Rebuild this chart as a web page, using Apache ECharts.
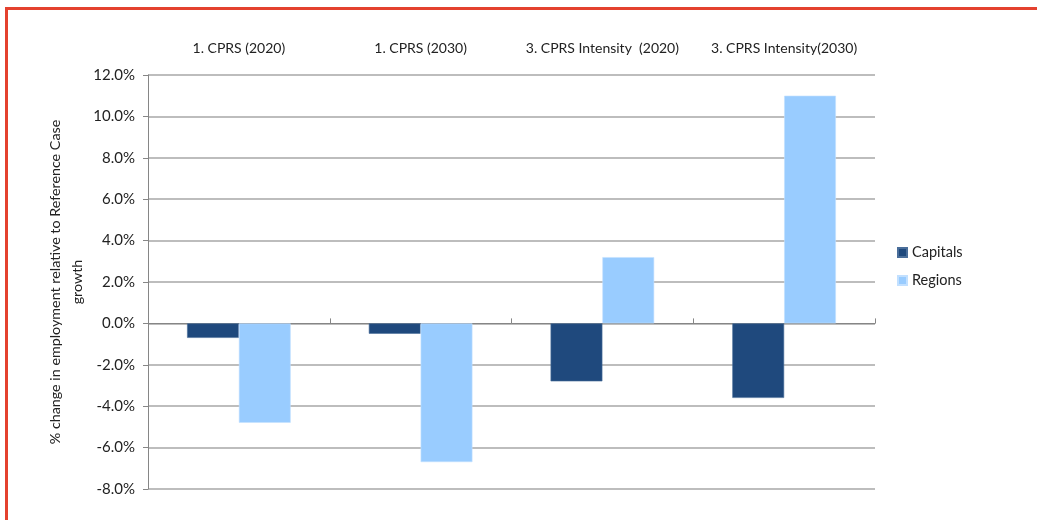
<!DOCTYPE html>
<html>
<head>
<meta charset="utf-8">
<script src="https://cdn.jsdelivr.net/npm/echarts@6/dist/echarts.min.js"></script>
<style>
  html, body { margin: 0; padding: 0; background: #ffffff; }
  #chart { width: 1037px; height: 520px; }
</style>
</head>
<body>
<div id="chart"></div>
<script>
// Scenario categories shown across the top
const categories = ['1. CPRS (2020)', '1. CPRS (2030)', '3. CPRS Intensity  (2020)', '3. CPRS Intensity(2030)'];
// % change in employment relative to Reference Case growth
const capitals = [-0.7, -0.5, -2.8, -3.6];
const regions = [-4.8, -6.7, 3.2, 11.0];
const seriesNames = ['Capitals', 'Regions'];
const yAxisTitle = '% change in employment relative to Reference Case\ngrowth';

const FONT = 'Lato, "Open Sans", sans-serif';
const AXIS_GREY = '#868686';

const chart = echarts.init(document.getElementById('chart'), null, { renderer: 'canvas' });

chart.setOption({
  backgroundColor: '#ffffff',
  animation: false,
  textStyle: { fontFamily: FONT },
  grid: { left: 148, right: 162, top: 75, bottom: 31, containLabel: false },
  legend: {
    orient: 'vertical',
    left: 892,
    top: 240,
    itemWidth: 9,
    itemHeight: 9,
    itemGap: 13,
    icon: 'rect',
    data: seriesNames,
    textStyle: { fontFamily: FONT, fontSize: 14.5, color: '#222' }
  },
  xAxis: [
    {
      // axis line at zero with separator ticks between categories
      type: 'category',
      data: categories,
      boundaryGap: true,
      axisLine: { onZero: true, lineStyle: { color: AXIS_GREY, width: 1 } },
      axisTick: { show: true, inside: true, length: 5, alignWithLabel: false, lineStyle: { color: AXIS_GREY } },
      axisLabel: { show: false },
      splitLine: { show: false }
    },
    {
      // category names along the top edge
      type: 'category',
      data: categories,
      position: 'top',
      boundaryGap: true,
      axisLine: { show: false },
      axisTick: { show: false },
      axisLabel: { show: true, interval: 0, margin: 20, fontFamily: FONT, fontSize: 14, color: '#222' },
      splitLine: { show: false }
    }
  ],
  yAxis: {
    type: 'value',
    min: -8,
    max: 12,
    interval: 2,
    name: yAxisTitle,
    nameLocation: 'middle',
    nameGap: 60,
    nameMoveOverlap: false,
    nameRotate: 90,
    nameTextStyle: { fontFamily: FONT, fontSize: 14.3, color: '#222', lineHeight: 22, align: 'center' },
    axisLine: { show: true, lineStyle: { color: AXIS_GREY, width: 1 } },
    axisTick: { show: true, inside: false, length: 5, lineStyle: { color: AXIS_GREY } },
    axisLabel: {
      margin: 13,
      fontFamily: FONT,
      fontSize: 15,
      color: '#222',
      formatter: v => v.toFixed(1) + '%'
    },
    splitLine: { show: true, lineStyle: { color: '#bdbdbd', width: 2 } }
  },
  series: [
    {
      name: seriesNames[0],
      type: 'bar',
      xAxisIndex: 0,
      data: capitals,
      barGap: '0%',
      barCategoryGap: '43%',
      itemStyle: { color: '#1f497d', borderColor: '#4a6e9a', borderWidth: 0.6 }
    },
    {
      name: seriesNames[1],
      type: 'bar',
      xAxisIndex: 0,
      data: regions,
      barGap: '0%',
      barCategoryGap: '43%',
      itemStyle: { color: '#99ccff', borderColor: '#c2e0ff', borderWidth: 0.6 }
    }
  ],
  graphic: [
    // red frame along the top and left edges
    { type: 'rect', left: 5, top: 7, shape: { width: 1032, height: 3 }, style: { fill: '#e4412f' }, silent: true, z: 100 },
    { type: 'rect', left: 5, top: 7, shape: { width: 3, height: 513 }, style: { fill: '#e4412f' }, silent: true, z: 100 }
  ]
});
</script>
</body>
</html>
